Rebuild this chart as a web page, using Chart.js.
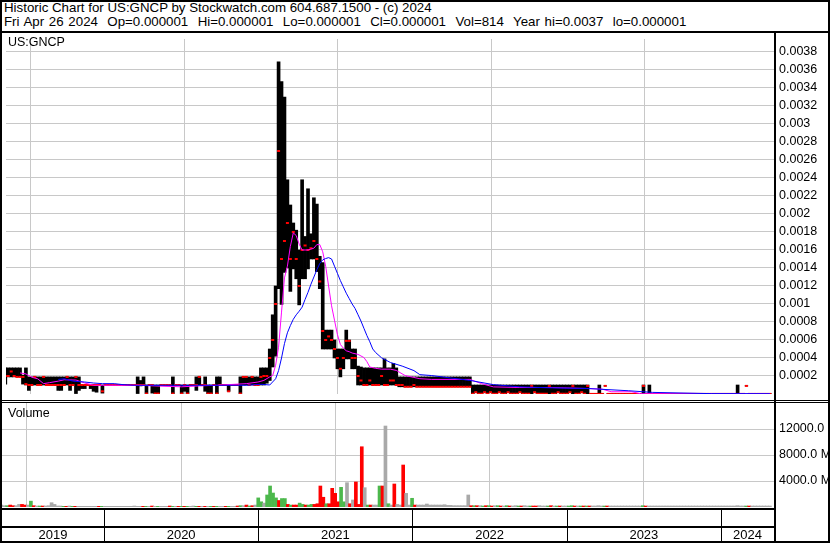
<!DOCTYPE html>
<html>
<head>
<meta charset="utf-8">
<script src="https://cdn.jsdelivr.net/npm/chart.js@4.4.0/dist/chart.umd.min.js"></script>
<style>
body { margin: 0; background: #fff; font-family: "Liberation Sans", Arial, sans-serif; }
#wrap { position: relative; width: 830px; height: 543px; overflow: hidden; background: #fff; }
canvas { position: absolute; left: 0; }
.ln { position: absolute; background: #000; }
.txt { position: absolute; white-space: pre; color: #000; }
</style>
</head>
<body>
<div id="wrap">
  <div class="txt" style="left:4px;top:1px;font-size:13.3px;line-height:14px">Historic Chart for US:GNCP by Stockwatch.com 604.687.1500 - (c) 2024</div>
  <div class="txt" style="left:4px;top:15px;font-size:13.3px;line-height:14px;word-spacing:1px">Fri Apr 26 2024  Op=0.000001  Hi=0.000001  Lo=0.000001  Cl=0.000001  Vol=814  Year hi=0.0037  lo=0.000001</div>
  <canvas id="priceChart" width="830" height="367" style="top:33px"></canvas>
  <canvas id="volumeChart" width="830" height="140" style="top:403px"></canvas>
  <div class="txt" style="left:8px;top:35px;font-size:12.5px;line-height:14px">US:GNCP</div>
  <div class="txt" style="left:8px;top:406px;font-size:12.5px;line-height:14px">Volume</div>
  <div class="ln" style="left:0;top:31px;width:830px;height:2px"></div>
  <div class="ln" style="left:774px;top:33px;width:2px;height:510px"></div>
  <div class="ln" style="left:0;top:400px;width:830px;height:1px"></div>
  <div class="ln" style="left:0;top:402px;width:830px;height:1px"></div>
  <div class="ln" style="left:0;top:508px;width:776px;height:2px"></div>
  <div class="ln" style="left:0;top:526px;width:776px;height:2px"></div>
  <div style="position:absolute;left:0;top:0;width:830px;height:543px;border:2px solid #000;box-sizing:border-box"></div>
</div>
<script>
// weekly bars, week ending Friday
const firstWeekEnd = '2019-05-03';
const yearTicks = [2020, 2021, 2022, 2023, 2024];
const yearLabels = ['2019', '2020', '2021', '2022', '2023', '2024'];
const priceTicks = [0.0002, 0.0004, 0.0006, 0.0008, 0.001, 0.0012, 0.0014, 0.0016, 0.0018, 0.002,
    0.0022, 0.0024, 0.0026, 0.0028, 0.003, 0.0032, 0.0034, 0.0036, 0.0038];
const volumeTicks = [4000, 8000, 12000];

// prices in millionths of a dollar
const weekHigh = [
    290,290,290,290,290,290,210,290,190,190,
    190,190,190,190,190,190,190,190,190,190,
    190,190,190,190,190,190,100,100,100,100,
    100,100,100,100,100,100,100,100,100,100,
    100,100,100,100,100,190,150,190,100,100,
    100,100,100,100,100,100,100,190,100,100,
    100,100,100,100,100,190,190,100,190,100,
    100,100,190,190,100,100,100,100,100,100,
    190,190,190,190,190,190,190,290,290,290,
    500,880,1200,3690,3470,3300,2380,2100,1900,1820,
    1600,2380,1750,2280,1780,2180,2110,1530,1460,710,
    710,710,600,500,500,500,710,600,500,500,
    310,300,290,290,290,290,290,290,290,390,
    290,290,340,290,190,190,190,190,190,190,
    190,190,190,190,190,190,190,190,190,190,
    190,190,190,190,190,190,190,190,190,100,
    100,100,100,100,100,100,100,100,100,100,
    100,100,100,100,100,100,100,100,100,100,
    100,100,100,100,100,100,100,100,100,100,
    100,100,100,100,100,100,100,100,100,3,
    3,3,100,3,90,3,3,3,3,3,
    3,3,3,3,3,3,3,100,3,100,
    3,3,3,3,3,3,3,3,3,3,
    3,3,3,3,3,3,3,3,3,3,
    3,3,3,3,3,3,3,3,3,100,
    3,3,90,3,3,3,3,3,3,3,
    3
];
const weekLow = [
    110,190,190,190,190,190,110,100,40,100,
    100,100,100,100,100,100,100,100,40,40,
    100,100,40,100,5,40,60,60,100,60,
    30,20,100,10,100,100,100,100,100,100,
    100,100,100,100,100,5,90,100,5,100,
    10,5,5,100,100,100,100,5,100,100,
    5,30,5,100,100,40,100,100,30,5,
    5,100,5,100,100,100,30,100,100,100,
    5,100,100,100,100,100,100,100,100,120,
    150,300,420,1170,995,1350,1400,1140,1390,1280,
    990,1280,1280,1390,1500,1500,1360,1170,500,500,
    500,500,400,280,190,280,390,390,280,280,
    100,100,100,100,100,100,100,100,100,100,
    100,100,100,100,80,80,80,80,80,80,
    80,80,80,80,80,80,80,80,80,80,
    80,80,80,80,80,80,80,80,80,3,
    20,3,3,20,3,20,3,3,20,3,
    3,20,3,3,3,20,3,3,3,3,
    20,3,3,3,3,3,3,3,20,3,
    3,3,20,3,3,3,20,3,3,1,
    1,1,1,1,90,1,1,1,1,1,
    1,1,1,1,1,1,1,1,1,1,
    1,1,1,1,1,1,1,1,1,1,
    1,1,1,1,1,1,1,1,1,1,
    1,1,1,1,1,1,1,1,1,1,
    1,1,90,1,1,1,1,1,1,1,
    1
];
const weekClose = [
    200,200,250,200,190,190,190,110,100,100,
    190,100,100,190,100,100,100,100,100,100,
    100,190,100,100,190,100,100,100,100,100,
    100,100,100,30,100,100,100,100,100,100,
    100,100,100,100,100,100,100,100,5,100,
    100,5,5,100,100,100,100,5,100,100,
    5,100,5,100,100,100,190,100,100,5,
    5,100,5,100,100,100,30,100,100,100,
    5,190,190,100,190,100,100,190,200,200,
    400,600,1000,2700,1500,1700,1900,1500,1800,1500,
    1200,1600,1650,1600,1620,1700,1500,1250,700,600,
    640,600,500,400,280,400,590,590,400,400,
    200,150,100,100,150,100,100,100,200,100,
    100,150,150,100,100,100,80,80,80,100,
    80,80,80,80,80,80,80,80,80,80,
    80,80,80,80,80,80,80,80,80,3,
    20,3,3,20,3,20,3,3,20,3,
    3,20,3,3,3,20,3,3,3,90,
    20,3,3,3,3,90,3,3,20,3,
    3,3,20,90,3,3,20,3,90,1,
    1,1,1,1,90,1,1,1,1,1,
    1,1,1,1,1,1,1,90,1,1,
    1,1,1,1,1,1,1,1,1,1,
    1,1,1,1,1,1,1,1,1,1,
    1,1,1,1,1,1,1,1,1,1,
    1,1,90,1,1,1,1,1,1,1,
    1
];
const weekVolume = [
    300,200,200,300,200,200,400,400,300,300,
    900,200,150,150,150,150,200,660,400,150,
    150,100,100,150,100,100,100,100,100,100,
    100,100,100,100,100,100,100,100,100,100,
    100,100,100,100,100,150,100,100,100,100,
    100,150,100,100,100,100,100,150,100,100,
    100,100,100,100,100,150,100,100,100,100,
    100,100,100,100,100,100,100,100,100,100,
    150,200,200,300,150,200,300,1400,800,600,
    1850,3230,2150,1400,1000,1300,1300,400,300,300,
    300,600,400,300,300,400,400,500,3230,1500,
    500,500,2870,2100,800,3030,800,3740,500,1080,
    3850,400,9270,2970,300,300,300,300,3230,3230,
    12460,500,300,3540,400,300,6460,2100,300,1340,
    300,300,300,300,460,300,300,300,300,300,
    350,250,250,200,200,200,200,200,1850,200,
    200,200,200,150,200,200,150,200,200,150,
    150,200,150,150,200,150,150,200,150,150,
    150,150,200,150,150,150,200,150,150,150,
    150,150,150,200,150,150,150,150,150,150,
    150,150,200,150,150,150,150,150,150,150,
    150,150,150,150,150,150,150,200,150,150,
    150,150,150,150,150,150,150,150,150,150,
    150,150,150,150,150,150,150,150,150,150,
    150,150,150,150,150,150,150,150,150,200,
    150,150,150,150,150,150,150,150,150,150,
    150
];

// moving averages, by week number
const fastMaWeek = [5,7,9,11,13,15,18,20,24,27, 30,33,45,55,60,66,72,82,86,88,
    90,91,92,93,94,95,96,97,98,99, 100,101,103,105,106,107,108,109,110,111,
    112,113,114,115,116,117,118,120,122,123, 124,126,128,131,133,136,141,145,158,162,
    166,175,186,198,203,206,213,216,260];
const fastMa = [234,223,186,169,115,126,143,158,155,122, 97,97,97,85,80,90,97,115,133,151,
    190,205,320,520,910,1290,1420,1640,1790,1760, 1665,1600,1600,1620,1660,1660,1580,1420,1200,980,
    820,660,550,510,480,470,455,440,405,360, 300,285,276,276,262,205,170,162,162,115,
    79,72,72,61,54,25,25,3,2];
const slowMaWeek = [18,20,23,27,30,33,37,40,44,60, 82,87,90,92,93,94,95,96,97,98,
    99,100,101,102,103,104,105,106,107,108, 109,110,111,112,113,114,115,116,117,118,
    119,120,121,122,123,124,125,126,128,131, 135,139,141,145,158,166,175,186,198,212,
    220,240,260];
const slowMa = [162,169,143,133,122,115,115,104,97,97, 97,108,100,169,260,400,560,680,760,830,
    880,920,965,1050,1130,1220,1300,1380,1450,1490, 1505,1515,1500,1420,1340,1260,1190,1120,1060,1000,
    950,880,810,730,650,580,500,460,402,350, 310,260,215,205,151,104,79,68,61,36,
    18,4,3];

Chart.defaults.font.family = '"Liberation Sans", Arial, sans-serif';
Chart.defaults.font.size = 12.5;
Chart.defaults.color = '#000';

function toYear(ms) {
    const y = new Date(ms).getUTCFullYear();
    const a = Date.UTC(y, 0, 1), b = Date.UTC(y + 1, 0, 1);
    return y + (ms - a) / (b - a);
}
const start = Date.parse(firstWeekEnd + 'T00:00:00Z');
const weekX = i => toYear(start + i * 7 * 86400000);
const micro = v => v / 1e6;

function timeAxis() {
    return {
        type: 'linear', min: 2019.3387, max: 2024.3437, offset: false,
        grid: { color: '#c8c8c8', drawTicks: false },
        border: { display: false },
        ticks: { display: false },
        afterBuildTicks: s => { s.ticks = yearTicks.map(v => ({ value: v })); },
        afterFit: s => { s.height = 0; s.paddingLeft = 0; s.paddingRight = 0; }
    };
}
function rightAxis(max, tickValues, fmt) {
    return {
        position: 'right', min: 0, max: max,
        grid: { color: '#c8c8c8', drawTicks: false },
        border: { display: false },
        ticks: { color: '#000', padding: 5, autoSkip: false, callback: fmt },
        afterBuildTicks: s => { s.ticks = tickValues.map(v => ({ value: v })); },
        afterFit: s => { s.width = 56; s.paddingTop = 0; s.paddingBottom = 0; }
    };
}

// Price chart
new Chart(document.getElementById('priceChart'), {
    type: 'bar',
    data: {
        datasets: [
            {
                type: 'line', order: 1,
                data: slowMaWeek.map((w, k) => ({ x: weekX(w), y: micro(slowMa[k]) })),
                borderColor: '#0000ff', borderWidth: 1, pointRadius: 0, tension: 0
            },
            {
                type: 'line', order: 2,
                data: fastMaWeek.map((w, k) => ({ x: weekX(w), y: micro(fastMa[k]) })),
                borderColor: '#ff00ff', borderWidth: 1, pointRadius: 0, tension: 0
            },
            {
                type: 'line', order: 3, showLine: false,
                data: weekClose.map((c, i) => ({ x: weekX(i), y: micro(c) })),
                pointStyle: 'line', pointRadius: 1.5, pointBorderWidth: 2,
                pointBorderColor: '#ff0000', pointBackgroundColor: '#ff0000'
            },
            {
                type: 'bar', order: 4,
                data: weekHigh.map((h, i) => ({ x: weekX(i), y: [micro(weekLow[i]), micro(h)] })),
                backgroundColor: '#000', barThickness: 3, grouped: false
            }
        ]
    },
    options: {
        responsive: false,
        animation: false,
        events: [],
        layout: { padding: { left: 2, right: 0, top: 0, bottom: 1 } },
        plugins: { legend: { display: false }, tooltip: { enabled: false } },
        scales: {
            x: timeAxis(),
            y: rightAxis(0.003944, priceTicks, v => String(+v.toFixed(4)))
        }
    }
});

// Volume chart, coloured by weekly close direction
const volColors = weekClose.map((c, i) => {
    if (i === 0 || c === weekClose[i - 1]) return '#a9a9a9';
    return c > weekClose[i - 1] ? '#4cb84c' : '#ff0000';
});

const yearRow = {
    id: 'yearRow',
    afterDraw(chart) {
        const xs = chart.scales.x, ctx = chart.ctx;
        const top = chart.chartArea.bottom + 3;
        ctx.save();
        ctx.strokeStyle = '#000';
        ctx.lineWidth = 1;
        yearTicks.forEach(v => {
            const px = Math.round(xs.getPixelForValue(v)) + 0.5;
            ctx.beginPath();
            ctx.moveTo(px, top);
            ctx.lineTo(px, chart.height);
            ctx.stroke();
        });
        ctx.fillStyle = '#000';
        ctx.font = '13px "Liberation Sans", Arial, sans-serif';
        ctx.textAlign = 'center';
        ctx.textBaseline = 'middle';
        yearLabels.forEach(lab => {
            const a = Math.max(+lab, xs.min), b = Math.min(+lab + 1, xs.max);
            ctx.fillText(lab, (xs.getPixelForValue(a) + xs.getPixelForValue(b)) / 2, 132);
        });
        ctx.restore();
    }
};

new Chart(document.getElementById('volumeChart'), {
    type: 'bar',
    data: {
        datasets: [{
            data: weekVolume.map((v, i) => ({ x: weekX(i), y: v })),
            backgroundColor: volColors, barThickness: 3, grouped: false
        }]
    },
    options: {
        responsive: false,
        animation: false,
        events: [],
        layout: { padding: { left: 2, right: 0, top: 0, bottom: 36 } },
        plugins: { legend: { display: false }, tooltip: { enabled: false } },
        scales: {
            x: timeAxis(),
            y: rightAxis(16000, volumeTicks, v => v.toFixed(1) + ' M')
        }
    },
    plugins: [yearRow]
});
</script>
</body>
</html>
